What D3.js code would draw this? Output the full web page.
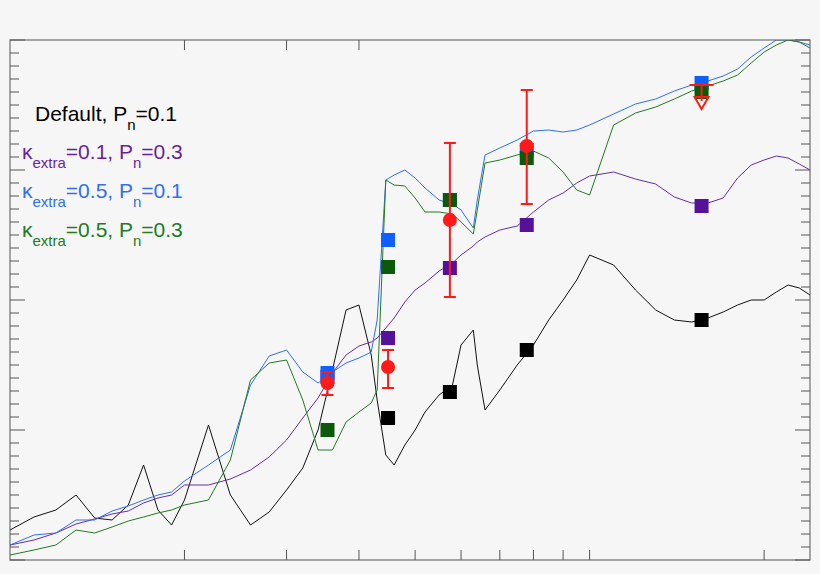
<!DOCTYPE html>
<html><head><meta charset="utf-8">
<script src="https://cdn.jsdelivr.net/npm/d3@7"></script>
<style>body{margin:0;background:#f6f6f6}svg{display:block}</style>
</head><body><div id="chart"></div>
<script>
// wavelength grid shared by all model curves
const wave = [1.0,1.1,1.2,1.3,1.4,1.5,1.6,1.7,1.8,1.9,2.0,2.2,2.4,2.6,2.8,3.0,3.2,3.4,3.6,3.8,4.0,4.2,4.3,4.45,4.6,4.8,5.0,5.2,5.5,5.8,6.0,6.3,6.4,6.6,7.0,7.5,8.0,8.5,9.0,9.5,10,11,12,13,14,15,16,17,18,19,20,21,22,23,24]
const fluxDefault = [30,43,50,65,42,40,55,95,50,35,60,135,65,35,48,70,92,130,190,250,255,205,160,105,95,115,130,148,165,175,215,230,195,150,170,195,215,240,260,280,305,295,270,250,240,238,242,248,255,260,260,268,275,272,265]
const fluxK01P03 = [15,20,27,36,41,46,49,57,62,65,75,75,81,90,103,120,142,162,187,205,214,218,222,232,242,258,270,277,289,297,305,314,318,323,330,334,348,360,367,377,384,388,381,376,363,357,357,362,382,395,400,404,402,396,390]
const fluxK05P01 = [15,25,27,40,40,49,54,60,65,68,79,95,110,175,204,210,188,177,188,197,202,208,240,380,385,390,382,372,360,356,350,332,360,405,412,420,429,430,428,430,435,446,456,461,469,475,479,484,491,503,512,520,520,518,515]
const fluxK05P03 = [5,10,15,30,27,33,39,43,47,50,55,60,100,180,197,200,160,110,110,138,148,157,170,380,375,374,362,348,348,346,338,326,350,397,400,405,409,402,388,370,365,435,447,453,461,469,474,479,485,497,508,515,520,518,512]

// photometry bands
const bandWave = [3.53, 4.49, 5.74, 7.79, 15.6]
const bandDefault = [null, 142, 168, 210, 240]
const bandK01P03 = [183, 222, 292, 335, 354]
const bandK05P01 = [187, 320, 360, 410, 477]
const bandK05P03 = [130, 293, 360, 402, 468]
const obsFlux = [177, 193, 340, 414, 475]
const obsLow = [165, 172, 263, 356, null]
const obsHigh = [188, 210, 417, 470, null]

const series = [
  { name: 'Default', flux: fluxDefault, band: bandDefault, line: '#111', mark: '#000' },
  { name: 'k01', flux: fluxK01P03, band: bandK01P03, line: '#6a2aa8', mark: '#55119a' },
  { name: 'k05p01', flux: fluxK05P01, band: bandK05P01, line: '#2f6ff2', mark: '#1060ff' },
  { name: 'k05p03', flux: fluxK05P03, band: bandK05P03, line: '#237a23', mark: '#0a5a0a' },
]

const W = 820, H = 574
const m = { left: 10, right: 10, top: 40, bottom: 14 }
const svg = d3.select('#chart').append('svg').attr('width', W).attr('height', H)
  .style('font-family', 'Liberation Sans, Arial, sans-serif')

const x = d3.scaleLog().domain([1.0, 24]).range([m.left, W - m.right])
const y = d3.scaleLinear().domain([0, 520]).range([H - m.bottom, m.top])

const clip = svg.append('clipPath').attr('id', 'clip').append('rect')
  .attr('x', m.left).attr('y', m.top).attr('width', W - m.left - m.right).attr('height', H - m.top - m.bottom)

const plot = svg.append('g').attr('clip-path', 'url(#clip)')
const line = d3.line().x((d, i) => x(wave[i])).y(d => y(d))

series.forEach(s => {
  plot.append('path').datum(s.flux).attr('d', line)
    .attr('fill', 'none').attr('stroke', s.line).attr('stroke-width', 1)
})

// band squares (drawn in order so later ones sit on top)
const sq = 14
series.forEach(s => {
  plot.selectAll(null).data(bandWave.map((w, i) => ({ w, v: s.band[i] })).filter(d => d.v != null))
    .join('rect')
    .attr('x', d => x(d.w) - sq / 2).attr('y', d => y(d.v) - sq / 2)
    .attr('width', sq).attr('height', sq).attr('fill', s.mark)
})

// observations
const red = '#ff1a1a'
const obs = bandWave.map((w, i) => ({ w, v: obsFlux[i], lo: obsLow[i], hi: obsHigh[i] }))
obs.filter(d => d.lo != null).forEach(d => {
  const g = plot.append('g').attr('stroke', red).attr('stroke-width', 2)
  g.append('line').attr('x1', x(d.w)).attr('x2', x(d.w)).attr('y1', y(d.lo)).attr('y2', y(d.hi))
  g.append('line').attr('x1', x(d.w) - 6).attr('x2', x(d.w) + 6).attr('y1', y(d.lo)).attr('y2', y(d.lo))
  g.append('line').attr('x1', x(d.w) - 6).attr('x2', x(d.w) + 6).attr('y1', y(d.hi)).attr('y2', y(d.hi))
  plot.append('circle').attr('cx', x(d.w)).attr('cy', y(d.v)).attr('r', 7).attr('fill', red)
})
obs.filter(d => d.lo == null).forEach(d => {
  const cx = x(d.w), cy = y(d.v)
  plot.append('line').attr('x1', cx - 12).attr('x2', cx + 12).attr('y1', cy).attr('y2', cy)
    .attr('stroke', red).attr('stroke-width', 2)
  plot.append('line').attr('x1', cx).attr('x2', cx).attr('y1', cy).attr('y2', cy + 16)
    .attr('stroke', red).attr('stroke-width', 2)
  plot.append('path').attr('d', `M${cx - 7},${cy + 12}L${cx + 7},${cy + 12}L${cx},${cy + 24}Z`)
    .attr('fill', 'none').attr('stroke', red).attr('stroke-width', 2)
})

// frame and ticks
const ax = '#555'
svg.append('rect').attr('x', m.left).attr('y', m.top).attr('width', W - m.left - m.right)
  .attr('height', H - m.top - m.bottom).attr('fill', 'none').attr('stroke', ax)

const yMinor = d3.range(0, 521, 13)
yMinor.forEach(v => {
  const major = v % 130 === 0
  const len = major ? 15 : 9
  svg.append('line').attr('x1', m.left).attr('x2', m.left + len).attr('y1', y(v)).attr('y2', y(v)).attr('stroke', ax)
  svg.append('line').attr('x1', W - m.right).attr('x2', W - m.right - len).attr('y1', y(v)).attr('y2', y(v)).attr('stroke', ax)
})
const xTicks = [2, 3, 4, 5, 6, 7, 8, 9, 10, 20]
xTicks.forEach(v => {
  svg.append('line').attr('x1', x(v)).attr('x2', x(v)).attr('y1', y(0)).attr('y2', y(0) - 10).attr('stroke', ax)
})
const xTopTicks = [2, 3, 4]
xTopTicks.forEach(v => {
  svg.append('line').attr('x1', x(v)).attr('x2', x(v)).attr('y1', y(520)).attr('y2', y(520) + 10).attr('stroke', ax)
})

// legend
const legend = [
  { k: null, p: '0.1', c: '#000', xx: 35, yy: 121 },
  { k: '0.1', p: '0.3', c: '#6a1fa0', xx: 22, yy: 159 },
  { k: '0.5', p: '0.1', c: '#2f6ff2', xx: 22, yy: 198 },
  { k: '0.5', p: '0.3', c: '#237a23', xx: 22, yy: 237 },
]
legend.forEach(l => {
  const t = svg.append('text').attr('x', l.xx).attr('y', l.yy).attr('fill', l.c).attr('font-size', 21)
  if (l.k == null) {
    t.append('tspan').text('Default, P')
  } else {
    t.append('tspan').text('κ')
    t.append('tspan').attr('dy', 9).attr('font-size', 15).text('extra')
    t.append('tspan').attr('dy', -9).text(`=${l.k}, P`)
  }
  t.append('tspan').attr('dy', 9).attr('font-size', 15).text('n')
  t.append('tspan').attr('dy', -9).text(`=${l.p}`)
})
</script>
</body></html>
